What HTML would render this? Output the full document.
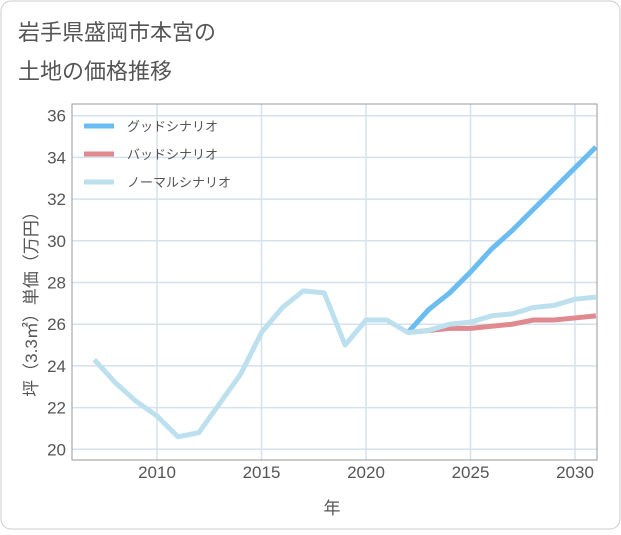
<!DOCTYPE html>
<html><head><meta charset="utf-8"><style>
body{margin:0;background:#fff;}
svg text{font-family:"Liberation Sans","Noto Sans CJK JP",sans-serif;}
</style></head><body>
<svg width="621" height="530" xmlns="http://www.w3.org/2000/svg">
<rect x="1" y="1" width="619" height="528" rx="10" fill="#fff" stroke="#ccc"/>
<text x="18" y="40" font-size="22" fill="#555">岩手県盛岡市本宮の</text>
<text x="18" y="79" font-size="22" fill="#555">土地の価格推移</text>
<g id="grid"></g>
<g id="series"></g>
<rect x="72" y="104" width="525" height="356" fill="none" stroke="#999"/>
<text x="332" y="514" font-size="17" fill="#555" text-anchor="middle">年</text>
<text transform="translate(37,300) rotate(-90)" font-size="17" fill="#555" text-anchor="middle">坪（3.3㎡）単価（万円）</text>
<g id="legend"></g>
</svg>
<script>
const years=[2007,2008,2009,2010,2011,2012,2013,2014,2015,2016,2017,2018,2019,2020,2021,2022,2023,2024,2025,2026,2027,2028,2029,2030,2031];
const normal=[24.3,23.2,22.3,21.6,20.6,20.8,22.2,23.6,25.6,26.8,27.6,27.5,25.0,26.2,26.2,25.6,25.7,26.0,26.1,26.4,26.5,26.8,26.9,27.2,27.3];
const goodYears=[2022,2023,2024,2025,2026,2027,2028,2029,2030,2031];
const good=[25.6,26.7,27.5,28.5,29.6,30.5,31.5,32.5,33.5,34.5];
const bad=[25.6,25.7,25.8,25.8,25.9,26.0,26.2,26.2,26.3,26.4];
const yTicks=[20,22,24,26,28,30,32,34,36];
const xTicks=[2010,2015,2020,2025,2030];
const legendNames=["グッドシナリオ","バッドシナリオ","ノーマルシナリオ"];
const colors=["#6bbcf0","#e0898f","#bde0ef"];
const NS="http://www.w3.org/2000/svg";
const xs=y=>157+(y-2010)*20.9;
const ys=v=>449.3-(v-20)*20.85;
function mk(tag,attrs,parent){const e=document.createElementNS(NS,tag);for(const k in attrs)e.setAttribute(k,attrs[k]);parent.appendChild(e);return e;}
const grid=document.getElementById('grid');
yTicks.forEach(t=>{
 const l=mk('line',{x1:72,x2:597,y1:ys(t),y2:ys(t),stroke:'#d5e1ec','stroke-width':1.5},grid);
 
 
 const tx=mk('text',{x:66,y:ys(t)+6,'font-size':17,fill:'#555','text-anchor':'end'},grid);
 tx.textContent=t;
 
 
});
xTicks.forEach(t=>{
 const l=mk('line',{x1:xs(t),x2:xs(t),y1:104,y2:460,stroke:'#d5e1ec','stroke-width':1.5},grid);
 
 
 const tx=mk('text',{x:xs(t),y:478,'font-size':17,fill:'#555','text-anchor':'middle'},grid);
 tx.textContent=t;
 
 
});
const ser=document.getElementById('series');
function line(xv,yv,c,name){
 const p=mk('polyline',{points:xv.map((x,i)=>xs(x)+','+ys(yv[i])).join(' '),fill:'none',stroke:c,'stroke-width':5,'stroke-linejoin':'round'},ser);
 
 
}
line(goodYears,good,colors[0],'good-scenario-line');
line(goodYears,bad,colors[1],'bad-scenario-line');
line(years,normal,colors[2],'normal-scenario-line');
const lg=document.getElementById('legend');
legendNames.forEach((n,i)=>{
 const y=126+i*28;
 const l=mk('line',{x1:84,x2:114,y1:y,y2:y,stroke:colors[i],'stroke-width':5},lg);
 
 
 const t=mk('text',{x:127,y:y+5,'font-size':13,fill:'#555'},lg);
 t.textContent=n;
 
 
});
</script>
</body></html>
